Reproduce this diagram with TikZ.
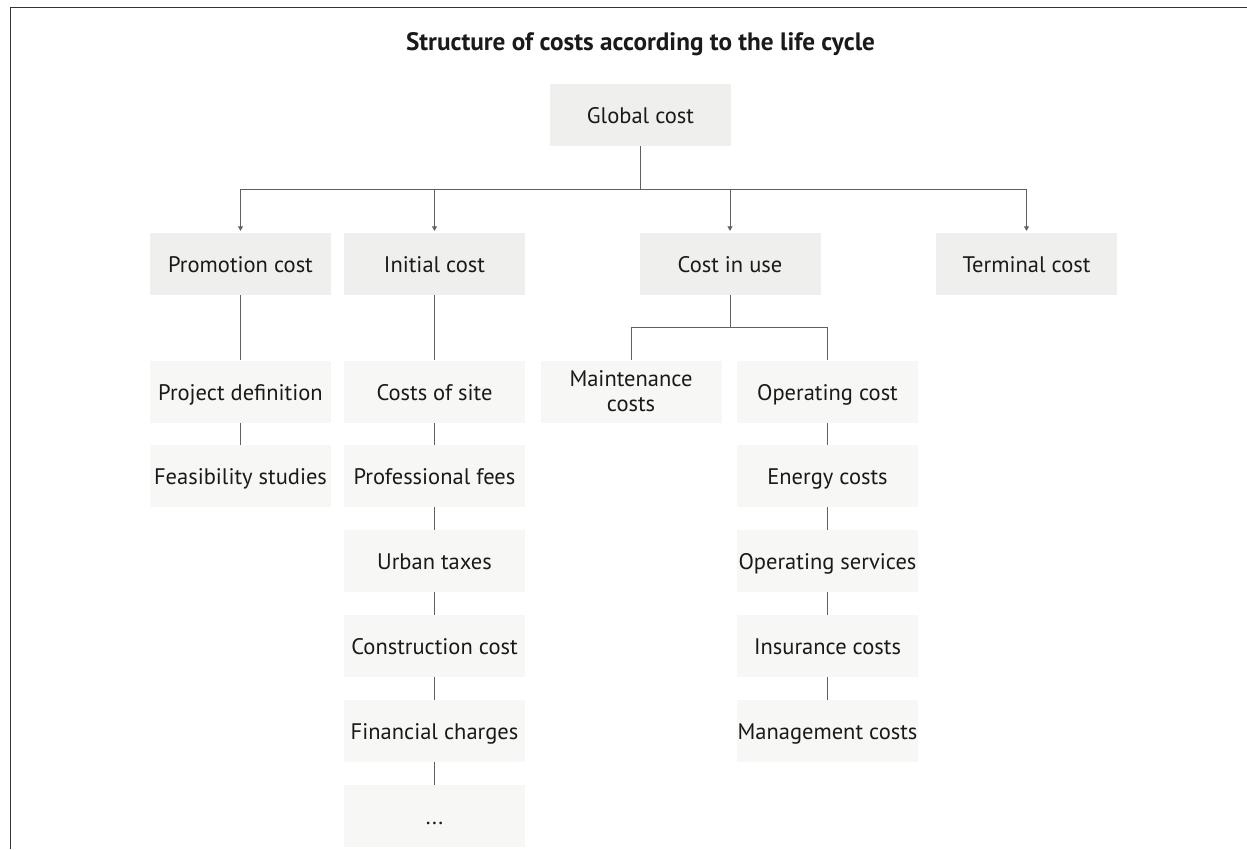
\documentclass[tikz,border=0pt]{standalone}
\usepackage{fontspec}
\setmainfont{PT Sans}
\usetikzlibrary{arrows.meta}
\definecolor{frameclr}{HTML}{333333}
\definecolor{topfill}{HTML}{EFEFEE}
\definecolor{subfill}{HTML}{F7F7F6}
\definecolor{txtclr}{HTML}{1A1A1A}
\definecolor{linkclr}{HTML}{606060}
\tikzset{
  basebox/.style={minimum width=181pt, minimum height=62pt, inner sep=0pt,
    align=center, text=txtclr, font=\fontsize{22.5}{25}\selectfont},
  costbox/.style={basebox, text height=17pt, text depth=0pt},
  mainbox/.style={costbox, fill=topfill},
  subbox/.style={costbox, fill=subfill},
  link/.style={draw=linkclr, line width=0.9pt},
  arrlink/.style={link, -{Triangle[width=5pt,length=4.5pt]}, shorten >=2pt},
}
\begin{document}
\begin{tikzpicture}[x=1pt, y=-1pt]
\useasboundingbox (0,0) rectangle (1247,849);
\fill[white] (0,0) rectangle (1247,849);
% outer frame, open at right and bottom
\draw[frameclr, line width=1.6pt] (10.5,849) -- (10.5,7.5) -- (1247,7.5);

\node[text=txtclr, font=\bfseries\fontsize{25.2}{27}\selectfont] (title) at (640.5,44) {Structure of costs according to the life cycle};

% first two levels
\node[mainbox] (global) at (640.5,115) {Global cost};
\node[mainbox] (promo) at (240.5,264) {Promotion cost};
\node[mainbox] (initial) at (434.5,264) {Initial cost};
\node[mainbox] (use) at (730,264) {Cost in use};
\node[mainbox] (terminal) at (1026.5,264) {Terminal cost};

% promotion cost branch
\node[subbox] (projdef) at (240.5,391.5) {Project definition};
\node[subbox] (feas) at (240.5,476) {Feasibility studies};

% initial cost branch
\node[subbox] (site) at (434.5,391.5) {Costs of site};
\node[subbox] (fees) at (434.5,476) {Professional fees};
\node[subbox] (taxes) at (434.5,561) {Urban taxes};
\node[subbox] (constr) at (434.5,646) {Construction cost};
\node[subbox] (fin) at (434.5,731) {Financial charges};
\node[subbox] (more) at (434.5,816) {...};

% cost in use branch
\node[basebox, fill=subfill] (maint) at (631,391.5) {Maintenance\\costs};
\node[subbox] (oper) at (827.5,391.5) {Operating cost};
\node[subbox] (energy) at (827.5,476) {Energy costs};
\node[subbox] (services) at (827.5,561) {Operating services};
\node[subbox] (insur) at (827.5,646) {Insurance costs};
\node[subbox] (manag) at (827.5,731) {Management costs};

% connectors from the global cost
\coordinate (bus) at (0,189);
\draw[link] (global.south) -- (global.south |- bus);
\draw[link] (promo.north |- bus) -- (terminal.north |- bus);
\foreach \n in {promo,initial,use,terminal}
  \draw[arrlink] (\n.north |- bus) -- (\n.north);

% chains below the first level
\draw[link] (promo) -- (projdef);
\draw[link] (projdef) -- (feas);
\draw[link] (initial) -- (site);
\draw[link] (site) -- (fees);
\draw[link] (fees) -- (taxes);
\draw[link] (taxes) -- (constr);
\draw[link] (constr) -- (fin);
\draw[link] (fin) -- (more);

\coordinate (split) at (0,327);
\draw[link] (use.south) -- (use.south |- split);
\draw[link] (maint.north |- split) -- (oper.north |- split);
\draw[link] (maint.north |- split) -- (maint.north);
\draw[link] (oper.north |- split) -- (oper.north);
\draw[link] (oper) -- (energy);
\draw[link] (energy) -- (services);
\draw[link] (services) -- (insur);
\draw[link] (insur) -- (manag);
\end{tikzpicture}
\end{document}
